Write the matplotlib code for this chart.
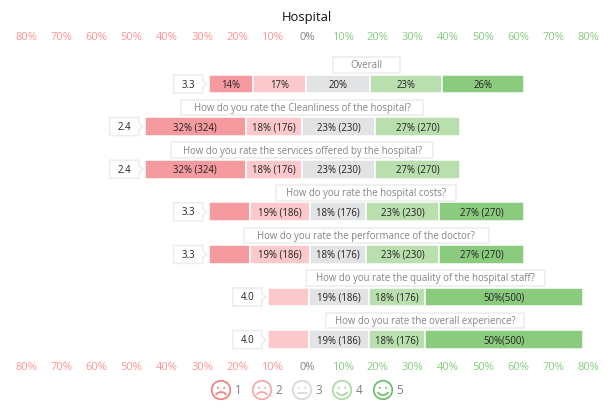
import matplotlib
matplotlib.use("Agg")
import matplotlib.pyplot as plt
from matplotlib.patches import Rectangle, Circle, Arc, Polygon

plt.rcParams['font.family'] = ['Open Sans', 'DejaVu Sans']

title = "Hospital"
questions = ["Overall",
             "How do you rate the Cleanliness of the hospital?",
             "How do you rate the services offered by the hospital?",
             "How do you rate the hospital costs?",
             "How do you rate the performance of the doctor?",
             "How do you rate the quality of the hospital staff?",
             "How do you rate the overall experience?"]
scores = ["3.3", "2.4", "2.4", "3.3", "3.3", "4.0", "4.0"]
rating_1 = [14, 32, 32, 13, 13, 0, 0]
rating_2 = [17, 18, 18, 19, 19, 13, 13]
rating_3 = [20, 23, 23, 18, 18, 19, 19]
rating_4 = [23, 27, 27, 23, 23, 18, 18]
rating_5 = [26, 0, 0, 27, 27, 50, 50]
labels_1 = ["14%", "32% (324)", "32% (324)", "", "", "", ""]
labels_2 = ["17%", "18% (176)", "18% (176)", "19% (186)", "19% (186)", "", ""]
labels_3 = ["20%", "23% (230)", "23% (230)", "18% (176)", "18% (176)", "19% (186)", "19% (186)"]
labels_4 = ["23%", "27% (270)", "27% (270)", "23% (230)", "23% (230)", "18% (176)", "18% (176)"]
labels_5 = ["26%", "", "", "27% (270)", "27% (270)", "50%(500)", "50%(500)"]
bar_start = [-28.1, -46.3, -46.3, -28.1, -28.1, -11.3, -11.3]
ticks = [-80, -70, -60, -50, -40, -30, -20, -10, 0, 10, 20, 30, 40, 50, 60, 70, 80]
legend_items = ["1", "2", "3", "4", "5"]

bar_colors = ["#f59a9f", "#fbc9cc", "#e2e3e5", "#b9dfae", "#8acb7e"]
face_colors = ["#f27b80", "#f9a3a6", "#d6d6d6", "#a9d9a0", "#68bd62"]
box_widths = [67, 242, 262, 180, 245, 239, 198]

W, H = 614, 414
PXX = 1 / 3.515   # data units per pixel, x
PXY = 1 / 42.6    # data units per pixel, y
AX_TOP, AX_BOT = 47, 358
ROW0 = 85

fig = plt.figure(figsize=(W / 100, H / 100), dpi=100)
ax = fig.add_axes([0, 1 - AX_BOT / H, 1, (AX_BOT - AX_TOP) / H])
ax.set_xlim(-307.5 * PXX, 306.5 * PXX)
ax.set_ylim((AX_BOT - ROW0) * PXY, (AX_TOP - ROW0) * PXY)
for s in ax.spines.values():
    s.set_visible(False)
ax.set_yticks([])
ax.set_xticks(ticks)
ax.set_xticklabels([f"{abs(t)}%" for t in ticks])
ax.tick_params(axis='x', length=0, labeltop=True, labelbottom=True, labelsize=8.0, pad=3)
for t, v in zip(ax.xaxis.get_major_ticks(), ticks):
    c = "#ff9494" if v < 0 else ("#86cc7e" if v > 0 else "#808080")
    t.label1.set_color(c)
    t.label2.set_color(c)

fig.text(307 / W, 1 - 17 / H, title, ha='center', va='center', fontsize=9.4, color='#111111')

SCALE = 0.897  # bars are drawn narrower than the header scale
series = [rating_1, rating_2, rating_3, rating_4, rating_5]
labels = [labels_1, labels_2, labels_3, labels_4, labels_5]
for row, q in enumerate(questions):
    left = bar_start[row]
    for vals, labs, col in zip(series, labels, bar_colors):
        v = vals[row] * SCALE
        if v > 0:
            ax.barh(row, v, left=left, height=0.44, color=col, edgecolor='white', linewidth=1.1)
            if labs[row]:
                ax.text(left + v / 2, row, labs[row], ha='center', va='center',
                        fontsize=6.9, color='#222222')
            left += v
    center = (bar_start[row] + left) / 2
    # question box
    bw = box_widths[row] * PXX
    bh = 15.5 * PXY
    qy = row - 19 * PXY
    ax.add_patch(Rectangle((center - bw / 2, qy - bh / 2), bw, bh, fc='white', ec='#eeeeee', lw=1.2, zorder=2))
    ax.text(center, qy, q, ha='center', va='center', fontsize=6.95, color='#858585', zorder=3)
    # score box with pointer
    x1 = bar_start[row] - 6 * PXX
    x0 = x1 - 29 * PXX
    hh = 9 * PXY
    pts = [(x0, row - hh), (x1, row - hh), (x1, row - 3.5 * PXY), (x1 + 4 * PXX, row),
           (x1, row + 3.5 * PXY), (x1, row + hh), (x0, row + hh)]
    ax.add_patch(Polygon(pts, closed=True, fc='white', ec='#eeeeee', lw=1.2, zorder=2))
    ax.text((x0 + x1) / 2, row, scores[row], ha='center', va='center', fontsize=6.9, color='#222222', zorder=3)

# legend, in pixel coordinates of the figure
lax = fig.add_axes([0, 0, 1, 1], facecolor='none')
lax.set_xlim(0, W)
lax.set_ylim(H, 0)
lax.axis('off')
centers = [221, 262, 302, 342, 383]
for i, (cx, col, item) in enumerate(zip(centers, face_colors, legend_items)):
    cy, r = 391, 9.3
    lax.add_patch(Circle((cx, cy), r, fc='none', ec=col, lw=1.2))
    lax.add_patch(Circle((cx - 3.2, cy - 2.2), 1.0, fc=col, ec='none'))
    lax.add_patch(Circle((cx + 3.2, cy - 2.2), 1.0, fc=col, ec='none'))
    if i < 2:
        lax.add_patch(Arc((cx, cy + 6.5), 11, 9, theta1=195, theta2=345, ec=col, lw=1.2))
    elif i == 2:
        lax.plot([cx - 4.5, cx + 4.5], [cy + 3.5, cy + 3.5], color=col, lw=1.1)
    else:
        lax.add_patch(Arc((cx, cy + 0.5), 11, 9, theta1=15, theta2=165, ec=col, lw=1.2))
    lax.text(cx + 17, cy, item, ha='center', va='center', fontsize=8.4, color='#808080')

fig.savefig("out.png", dpi=100)
